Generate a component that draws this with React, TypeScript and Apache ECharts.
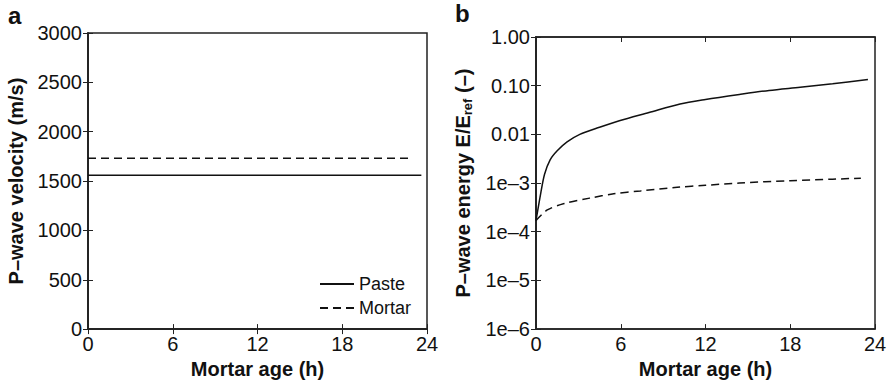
import React, { useEffect, useRef } from "react";
import * as echarts from "echarts";

// Panel a: P-wave velocity (m/s) vs mortar age (h)
const pasteVelTime = [0, 23.6];
const pasteVel = [1560, 1560];
const mortarVelTime = [0, 23.0];
const mortarVel = [1730, 1730];

// Panel b: P-wave energy E/Eref (-) vs mortar age (h)
const pasteEnTime = [0, 0.28, 0.6, 1.0, 1.5, 2.2, 3.1, 4.5, 5.9, 8, 10.2, 12, 14.4, 16.5, 18.7, 21, 23.5];
const pasteEn = [1.7e-4, 5e-4, 1.5e-3, 3.0e-3, 4.6e-3, 7e-3, 0.01, 0.014, 0.019, 0.028, 0.042, 0.052, 0.066, 0.08, 0.093, 0.11, 0.134];
const mortarEnTime = [0, 0.8, 2, 3.8, 5.5, 7.4, 10, 12, 14.4, 18, 21, 23];
const mortarEn = [1.7e-4, 2.8e-4, 3.8e-4, 4.9e-4, 6e-4, 6.9e-4, 8.2e-4, 9e-4, 1.0e-3, 1.12e-3, 1.2e-3, 1.26e-3];

const xTicks = [0, 6, 12, 18, 24];
const yTickLabelsB = ["1e–6", "1e–5", "1e–4", "1e–3", "0.01", "0.10", "1.00"];

const FONT = "Liberation Sans, Arial, Helvetica, sans-serif";

export default function App() {
  const ref = useRef<HTMLDivElement>(null);
  useEffect(() => {
    if (!ref.current) return;
    const chart = echarts.init(ref.current, undefined, { renderer: "svg" });
    const zip = (xs: number[], ys: number[]) => xs.map((x, i) => [x, ys[i]]);
    const tickLbl = { color: "#111", fontSize: 20, fontFamily: FONT };
    const nameStyle = { color: "#111", fontSize: 20, fontWeight: "bold" as const, fontFamily: FONT };
    const axLine = { show: true, lineStyle: { color: "#222", width: 1.5 } };
    const tickIn = { show: true, inside: true, length: 5, lineStyle: { color: "#222", width: 1 } };

    const xBase = (grid: number) => ({
      type: "value" as const,
      gridIndex: grid,
      min: xTicks[0],
      max: xTicks[xTicks.length - 1],
      interval: xTicks[1] - xTicks[0],
      splitLine: { show: false },
      axisLine: axLine,
      axisTick: tickIn,
    });

    const option: echarts.EChartsOption = {
      animation: false,
      textStyle: { fontFamily: FONT },
      grid: [
        { left: 88, right: 467, top: 33, bottom: 53, show: true, borderColor: "#222", borderWidth: 1.5 },
        { left: 536, right: 19, top: 37, bottom: 51, show: true, borderColor: "#222", borderWidth: 1.5 },
      ],
      graphic: [
        { type: "text", left: 8, top: 3, style: { text: "a", fontSize: 24, fontWeight: "bold", fill: "#111", fontFamily: FONT } },
        { type: "text", left: 455, top: 1, style: { text: "b", fontSize: 24, fontWeight: "bold", fill: "#111", fontFamily: FONT } },
      ],
      legend: {
        show: true,
        data: ["Paste", "Mortar"],
        orient: "vertical",
        left: 314,
        top: 270,
        itemWidth: 34,
        itemHeight: 12,
        itemGap: 6,
        itemStyle: { opacity: 0 },
        textStyle: { color: "#111", fontSize: 18, fontFamily: FONT },
      },
      xAxis: [
        {
          ...xBase(0),
          position: "bottom",
          axisLabel: { ...tickLbl, margin: 5 },
          name: "Mortar age (h)",
          nameLocation: "middle",
          nameGap: 27,
          nameTextStyle: nameStyle,
        },
        { ...xBase(0), position: "top", axisLabel: { show: false } },
        {
          ...xBase(1),
          position: "bottom",
          axisLabel: { ...tickLbl, margin: 5 },
          name: "Mortar age (h)",
          nameLocation: "middle",
          nameGap: 27,
          nameTextStyle: nameStyle,
        },
        { ...xBase(1), position: "top", axisLabel: { show: false } },
      ],
      yAxis: [
        {
          type: "value",
          gridIndex: 0,
          min: 0,
          max: 3000,
          interval: 500,
          position: "left",
          splitLine: { show: false },
          axisLine: axLine,
          axisTick: tickIn,
          axisLabel: { ...tickLbl, margin: 6, formatter: (v: number) => String(v) },
          name: "P–wave velocity (m/s)",
          nameLocation: "middle",
          nameGap: 62,
          nameTextStyle: nameStyle,
        },
        {
          type: "value",
          gridIndex: 0,
          min: 0,
          max: 3000,
          interval: 500,
          position: "right",
          splitLine: { show: false },
          axisLine: axLine,
          axisTick: tickIn,
          axisLabel: { show: false },
        },
        {
          type: "log",
          logBase: 10,
          gridIndex: 1,
          min: 1e-6,
          max: 1,
          position: "left",
          splitLine: { show: false },
          minorTick: { show: false },
          axisLine: axLine,
          axisTick: tickIn,
          axisLabel: {
            ...tickLbl,
            margin: 6,
            formatter: (v: number) => yTickLabelsB[Math.round(Math.log10(v)) + 6] ?? "",
          },
          name: "{b|P–wave energy E/E}{s|ref}{b| (–)}",
          nameLocation: "middle",
          nameGap: 62,
          nameTextStyle: {
            ...nameStyle,
            rich: {
              b: { fontSize: 20, fontWeight: "bold", fontFamily: FONT, color: "#111" },
              s: { fontSize: 13, fontWeight: "bold", fontFamily: FONT, color: "#111", padding: [9, 0, 0, 0] },
            },
          },
        },
        {
          type: "log",
          logBase: 10,
          gridIndex: 1,
          min: 1e-6,
          max: 1,
          position: "right",
          splitLine: { show: false },
          axisLine: axLine,
          axisTick: tickIn,
          axisLabel: { show: false },
        },
      ],
      series: [
        {
          name: "Paste",
          type: "line",
          xAxisIndex: 0,
          yAxisIndex: 0,
          data: zip(pasteVelTime, pasteVel),
          symbol: "none",
          lineStyle: { color: "#111", width: 1.5, type: "solid" },
          itemStyle: { color: "#111" },
        },
        {
          name: "Mortar",
          type: "line",
          xAxisIndex: 0,
          yAxisIndex: 0,
          data: zip(mortarVelTime, mortarVel),
          symbol: "none",
          lineStyle: { color: "#111", width: 1.5, type: [8, 5] },
          itemStyle: { color: "#111" },
        },
        {
          name: "Paste E",
          type: "line",
          xAxisIndex: 2,
          yAxisIndex: 2,
          data: zip(pasteEnTime, pasteEn),
          symbol: "none",
          smooth: 0.3,
          lineStyle: { color: "#111", width: 1.5, type: "solid" },
        },
        {
          name: "Mortar E",
          type: "line",
          xAxisIndex: 2,
          yAxisIndex: 2,
          data: zip(mortarEnTime, mortarEn),
          symbol: "none",
          smooth: 0.3,
          lineStyle: { color: "#111", width: 1.5, type: [8, 5] },
        },
      ],
    };
    chart.setOption(option);
    return () => chart.dispose();
  }, []);
  return <div ref={ref} style={{ width: 894, height: 384, position: "absolute", left: 0, top: 0 }} />;
}
